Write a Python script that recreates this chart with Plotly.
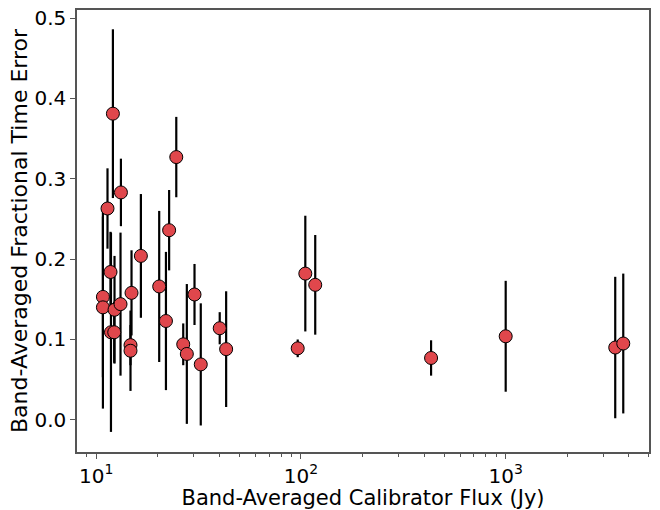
import plotly.graph_objects as go

flux = [10.78, 10.78, 11.35, 11.74, 11.80, 12.06, 12.24, 12.28, 13.14, 13.20,
        14.70, 14.70, 14.87, 16.52, 20.3, 21.9, 22.7, 24.6, 26.6, 27.7,
        30.2, 32.4, 40.1, 43.1, 96.4, 105.0, 117.4, 432.0, 1000.0, 3428.0, 3752.0]
frac_err = [0.153, 0.140, 0.263, 0.184, 0.109, 0.381, 0.109, 0.137, 0.144, 0.283,
            0.093, 0.086, 0.158, 0.204, 0.166, 0.123, 0.236, 0.327, 0.094, 0.082,
            0.156, 0.069, 0.114, 0.088, 0.089, 0.182, 0.168, 0.077, 0.104, 0.090, 0.095]
frac_err_unc = [0.100, 0.126, 0.050, 0.050, 0.124, 0.105, 0.038, 0.067, 0.089, 0.042,
                0.025, 0.050, 0.053, 0.077, 0.094, 0.086, 0.050, 0.050, 0.026, 0.087,
                0.038, 0.076, 0.020, 0.072, 0.011, 0.072, 0.062, 0.022, 0.069, 0.088, 0.087]

x_tickvals = [10, 100, 1000]
x_ticktext = ["10<sup>1</sup>", "10<sup>2</sup>", "10<sup>3</sup>"]
y_tickvals = [0.0, 0.1, 0.2, 0.3, 0.4, 0.5]

fig = go.Figure()
fig.add_trace(go.Scatter(
    x=flux, y=frac_err, mode="markers",
    error_y=dict(type="data", array=frac_err_unc, symmetric=True,
                 color="black", thickness=2.2, width=0),
    marker=dict(size=13, color="#e0474c", line=dict(color="black", width=1)),
    showlegend=False,
))

axis_common = dict(showline=True, mirror=True, linecolor="#555555", linewidth=1.5,
                   ticks="outside", ticklen=5, tickcolor="#555555", showgrid=False,
                   zeroline=False, tickfont=dict(size=20, color="black"))

fig.update_xaxes(type="log", range=[0.906, 3.70], tickvals=x_tickvals, ticktext=x_ticktext,
                 title=dict(text="Band-Averaged Calibrator Flux (Jy)", font=dict(size=21, color="black"),
                            standoff=2),
                 minor=dict(ticks="outside", ticklen=3, tickcolor="#555555", dtick="D1", showgrid=False),
                 **axis_common)
fig.update_yaxes(range=[-0.040, 0.510], tickvals=y_tickvals, tickformat=".1f",
                 title=dict(text="Band-Averaged Fractional Time Error", font=dict(size=22, color="black"),
                            standoff=1),
                 **axis_common)

fig.update_layout(width=660, height=510, margin=dict(l=77, r=11, t=6, b=57),
                  plot_bgcolor="white", paper_bgcolor="white",
                  font=dict(family="DejaVu Sans", color="black"))

fig.write_html("out.html")
